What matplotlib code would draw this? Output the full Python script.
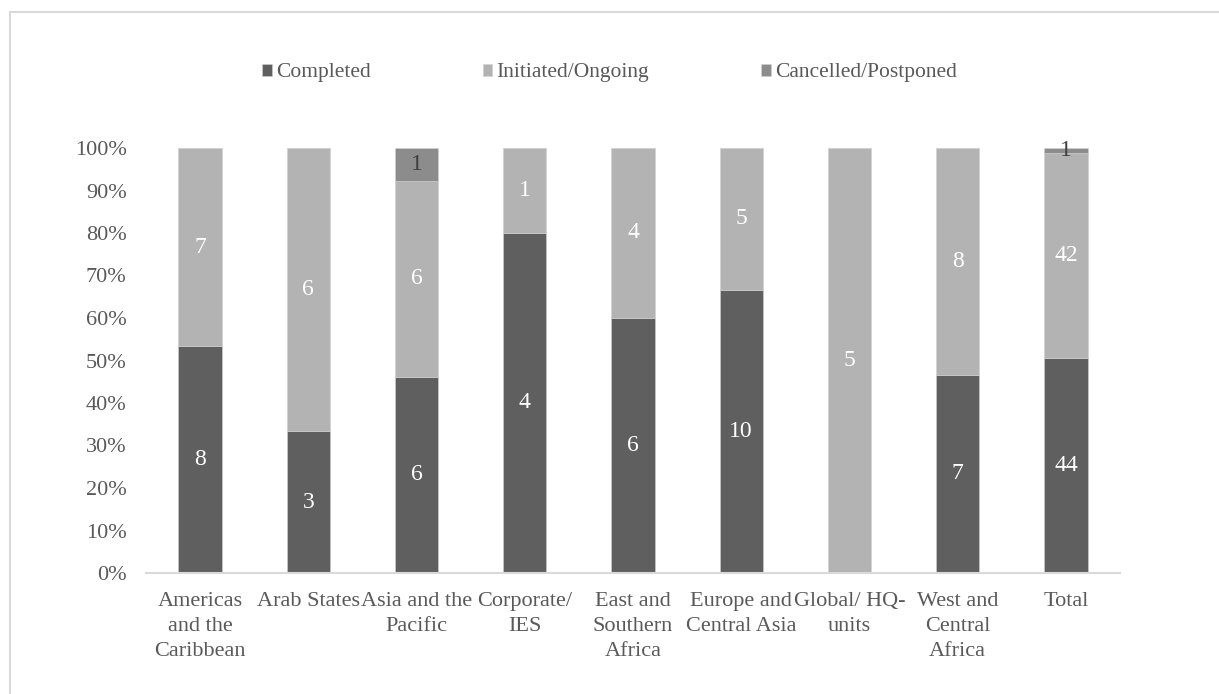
import matplotlib.pyplot as plt
from matplotlib.lines import Line2D
import numpy as np

plt.rcParams['font.family'] = ['Liberation Serif', 'DejaVu Serif']

regions = ['Americas\nand the\nCaribbean', 'Arab States', 'Asia and the\nPacific',
           'Corporate/\nIES', 'East and\nSouthern\nAfrica', 'Europe and\nCentral Asia',
           'Global/ HQ-\nunits', 'West and\nCentral\nAfrica', 'Total']
completed = [8, 3, 6, 4, 6, 10, 0, 7, 44]
ongoing = [7, 6, 6, 1, 4, 5, 5, 8, 42]
cancelled = [0, 0, 1, 0, 0, 0, 0, 0, 1]

series = [
    ('Completed', completed, '#5f5f5f', 'white'),
    ('Initiated/Ongoing', ongoing, '#b3b3b3', 'white'),
    ('Cancelled/Postponed', cancelled, '#8c8c8c', '#404040'),
]

totals = np.array(completed) + np.array(ongoing) + np.array(cancelled)
x = np.arange(len(regions))

fig = plt.figure(figsize=(12.19, 6.94), dpi=100)
ax = fig.add_axes([146 / 1219, 1 - 573 / 694, 974 / 1219, 425 / 694])

bottom = np.zeros(len(regions))
handles = []
for name, vals, color, txt_color in series:
    vals = np.array(vals, dtype=float)
    share = vals / totals
    bars = ax.bar(x, share, 0.4, bottom=bottom, color=color,
                  edgecolor='#d0d0d0', linewidth=0.4, label=name)
    handles.append(bars)
    for xi, v, s, b in zip(x, vals, share, bottom):
        if v > 0:
            ax.text(xi, b + s / 2, f'{int(v)}', ha='center', va='center',
                    fontsize=17, color=txt_color)
    bottom += share

ax.set_xlim(-0.5, len(regions) - 0.5)
ax.set_ylim(0, 1)
ax.set_yticks(np.arange(0, 1.01, 0.1))
ax.set_yticklabels([f'{int(round(t * 100))}%' for t in np.arange(0, 1.01, 0.1)])
ax.set_xticks(x)
ax.set_xticklabels(regions, linespacing=1.42)
ax.tick_params(axis='y', length=0, pad=14, labelsize=16, labelcolor='#595959')
ax.tick_params(axis='x', length=0, pad=14, labelsize=16, labelcolor='#595959')

for side in ['top', 'right', 'left']:
    ax.spines[side].set_visible(False)
ax.spines['bottom'].set_color('#d9d9d9')
ax.spines['bottom'].set_linewidth(1.5)

fig.legend(handles=handles, loc='center', bbox_to_anchor=(0.5, 1 - 73 / 694),
           ncol=3, frameon=False, fontsize=15.5, handlelength=0.45,
           handleheight=0.45, handletextpad=0.2, columnspacing=5.2,
           labelcolor='#595959')

# outer chart frame
fig.add_artist(Line2D([10 / 1219, 10 / 1219], [0, 1 - 12 / 694],
                      transform=fig.transFigure, color='#d9d9d9', lw=1.5))
fig.add_artist(Line2D([10 / 1219, 1], [1 - 12 / 694, 1 - 12 / 694],
                      transform=fig.transFigure, color='#d9d9d9', lw=1.5))

fig.savefig('out.png', dpi=100)
